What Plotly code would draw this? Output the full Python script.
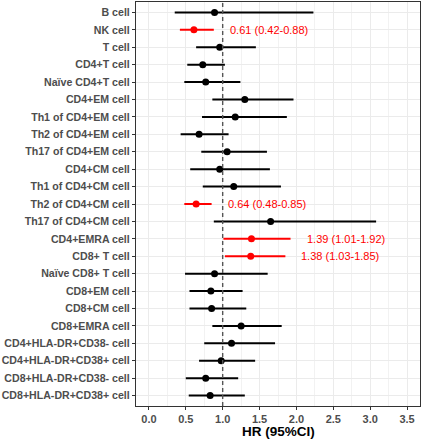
import plotly.graph_objects as go

cells = ["B cell", "NK cell", "T cell", "CD4+T cell", "Naïve CD4+T cell", "CD4+EM cell",
         "Th1 of CD4+EM cell", "Th2 of CD4+EM cell", "Th17 of CD4+EM cell", "CD4+CM cell",
         "Th1 of CD4+CM cell", "Th2 of CD4+CM cell", "Th17 of CD4+CM cell", "CD4+EMRA cell",
         "CD8+ T cell", "Naïve CD8+ T cell", "CD8+EM cell", "CD8+CM cell", "CD8+EMRA cell",
         "CD4+HLA-DR+CD38- cell", "CD4+HLA-DR+CD38+ cell", "CD8+HLA-DR+CD38- cell",
         "CD8+HLA-DR+CD38+ cell"]
hr = [0.89, 0.61, 0.96, 0.73, 0.77, 1.30, 1.17, 0.68, 1.06, 0.96, 1.15, 0.64, 1.65, 1.39,
      1.38, 0.89, 0.84, 0.85, 1.25, 1.12, 0.98, 0.77, 0.83]
lower = [0.35, 0.42, 0.64, 0.52, 0.48, 0.86, 0.72, 0.43, 0.71, 0.56, 0.73, 0.48, 0.88, 1.01,
         1.03, 0.49, 0.55, 0.55, 0.86, 0.75, 0.68, 0.50, 0.54]
upper = [2.23, 0.88, 1.45, 1.03, 1.24, 1.96, 1.87, 1.08, 1.60, 1.64, 1.79, 0.85, 3.08, 1.92,
         1.85, 1.61, 1.27, 1.32, 1.80, 1.71, 1.44, 1.21, 1.30]
significant = [False, True, False, False, False, False, False, False, False, False, False, True,
               False, True, True, False, False, False, False, False, False, False, False]
x_ticks = [0.0, 0.5, 1.0, 1.5, 2.0, 2.5, 3.0, 3.5]

FONT = "Liberation Sans, Arial"

fig = go.Figure()

fig.add_shape(type="line", x0=1, x1=1, y0=0, y1=1, yref="paper", xref="x",
              line=dict(color="#555555", width=1.4, dash="4px,3px"), layer="above")

for sig, color in [(False, "black"), (True, "#FF0000")]:
    idx = [i for i, s in enumerate(significant) if s == sig]
    fig.add_trace(go.Scatter(
        x=[hr[i] for i in idx],
        y=[cells[i] for i in idx],
        mode="markers",
        marker=dict(color=color, size=7),
        error_x=dict(type="data", symmetric=False,
                     array=[upper[i] - hr[i] for i in idx],
                     arrayminus=[hr[i] - lower[i] for i in idx],
                     color=color, thickness=2, width=0),
        showlegend=False,
        hoverinfo="skip",
    ))

for i, s in enumerate(significant):
    if s:
        fig.add_annotation(x=upper[i], y=cells[i], text=f"{hr[i]:.2f} ({lower[i]:.2f}-{upper[i]:.2f})",
                           showarrow=False, xanchor="left", xshift=14,
                           font=dict(family=FONT, size=11, color="#FF0000"))

fig.add_annotation(x=0.5, xref="paper", y=-0.0636, yref="paper", yanchor="middle",
                   text="<b>HR (95%CI)</b>", showarrow=False,
                   font=dict(family=FONT, size=13.5, color="black"))

fig.update_layout(
    width=423, height=440,
    margin=dict(l=136, r=3, t=2, b=34, autoexpand=False),
    plot_bgcolor="white", paper_bgcolor="white",
    font=dict(family=FONT, size=11, color="#4D4D4D"),
)
fig.update_xaxes(
    automargin=False,
    range=[-0.175, 3.675], tickvals=x_ticks, ticktext=[f"{v:.1f}" for v in x_ticks],
    tickfont=dict(family=FONT, size=11, color="#4D4D4D", weight="bold"),
    showgrid=True, gridcolor="#EBEBEB", gridwidth=1,
    minor=dict(dtick=0.25, tick0=0, showgrid=True, gridcolor="#F2F2F2", gridwidth=0.6),
    zeroline=False, showline=True, linecolor="#333333", linewidth=1.2, mirror=True,
    ticks="outside", ticklen=3, tickcolor="#333333",
)
fig.update_yaxes(
    automargin=False,
    categoryorder="array", categoryarray=cells, autorange=False,
    range=[len(cells) - 0.4, -0.6],
    tickfont=dict(family=FONT, size=10.6, color="#4D4D4D", weight="bold"),
    showgrid=True, gridcolor="#EBEBEB", gridwidth=1,
    zeroline=False, showline=True, linecolor="#333333", linewidth=1.2, mirror=True,
    ticks="outside", ticklen=3, tickcolor="#333333",
)

fig.write_html("out.html", config={"displayModeBar": False},
               post_script="document.body.style.margin='0';")
